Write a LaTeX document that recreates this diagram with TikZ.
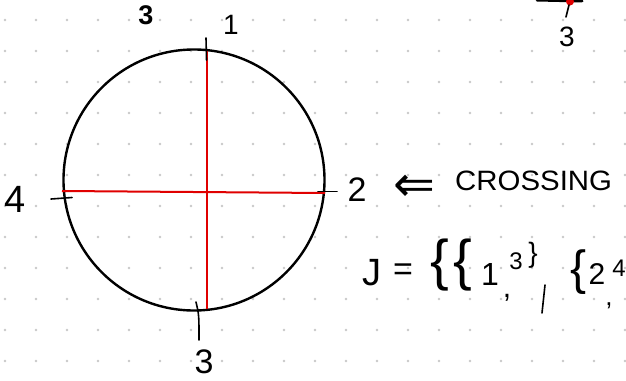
\documentclass[tikz,border=0pt]{standalone}
\usepackage{fontspec}
\setmainfont{Liberation Sans}
\newfontfamily\symfnt{DejaVu Sans}
\begin{document}
\begin{tikzpicture}[x=1pt,y=-1pt,
  ink/.style={line width=2.4pt,line cap=round,black},
  redline/.style={line width=2pt,color=redink},
  lbl/.style={inner sep=0pt,font=#1},
  lbl/.default=\fontsize{28}{28}\selectfont]
\definecolor{redink}{RGB}{224,0,0}
\definecolor{gridgray}{RGB}{200,200,200}
\useasboundingbox (0,0) rectangle (626,380);
\clip (0,0) rectangle (626,380);
\fill[white] (0,0) rectangle (626,380);
% dot grid
\foreach \i in {0,...,20}{\foreach \j in {0,...,11}{
  \fill[gridgray] (5+31*\i,20+31*\j) circle (1.3);}}
% circle
\coordinate (c) at (194,180);
\draw[ink] (c) circle (130.5);
% red chords
\coordinate (t) at (206.5,51);
\coordinate (b) at (206.5,309);
\coordinate (l) at (62,191);
\coordinate (r) at (325,193);
\draw[redline] (t) -- (b);
\draw[redline] (l) -- (r);
% ticks
\draw[ink,line width=1.6pt] (206,38) -- (206.5,60);
\draw[ink,line width=1.6pt] (318,191.5) -- (337,191.5);
\draw[ink,line width=1.6pt] (51,199) -- (72,197.5);
\draw[ink,line width=1.6pt] (196,302) .. controls (199,315) .. (199,340);
% labels
\node[lbl=\fontsize{27}{27}\selectfont\bfseries] (n3a) at (146,15) {3};
\node[lbl=\fontsize{28}{28}\selectfont] (n1) at (231,25) {1};
\node[lbl=\fontsize{38}{38}\selectfont] (n4) at (15,199) {4};
\node[lbl=\fontsize{34}{34}\selectfont] (n2) at (357,190) {2};
\node[lbl=\fontsize{34}{34}\selectfont] (n3b) at (204,362) {3};
\node[lbl=\fontsize{50}{50}\selectfont\symfnt] (arr) at (414,188) {⇐};
\node[lbl=\fontsize{28}{28}\selectfont,anchor=west] (cross) at (455,181) {\scalebox{1.05}[1]{CROSSING}};
% J line
\node[lbl=\fontsize{38}{38}\selectfont] (J) at (372,273) {J};
\node[lbl=\fontsize{34}{34}\selectfont] (eq) at (403,272) {=};
\node[lbl=\fontsize{56}{56}\selectfont] (b1) at (440,265) {\{};
\node[lbl=\fontsize{56}{56}\selectfont] (b2) at (463,265) {\{};
\node[lbl=\fontsize{32}{32}\selectfont] (one) at (490,274) {1};
\node[lbl=\fontsize{30}{30}\selectfont] (c1) at (507,298) {,};
\node[lbl=\fontsize{24}{24}\selectfont] (three) at (516,261) {3};
\node[lbl=\fontsize{28}{28}\selectfont] (b3) at (533,255) {\}};
\draw[ink,line width=1.6pt] (545,285) -- (542,313);
\node[lbl=\fontsize{48}{48}\selectfont] (b4) at (579,272) {\{};
\node[lbl=\fontsize{30}{30}\selectfont] (two) at (597,274) {2};
\node[lbl=\fontsize{26}{26}\selectfont] (c2) at (609,306) {,};
\node[lbl=\fontsize{24}{24}\selectfont,anchor=east] (four) at (626,268) {4};
% top right fragment
\draw[ink,line width=3pt] (537,0) -- (582,1);
\fill[redink] (570,1.5) circle (4);
\draw[ink,line width=1.6pt] (569,5) -- (566,17);
\node[lbl=\fontsize{28}{28}\selectfont] (n3c) at (567,37) {3};
\end{tikzpicture}
\end{document}
